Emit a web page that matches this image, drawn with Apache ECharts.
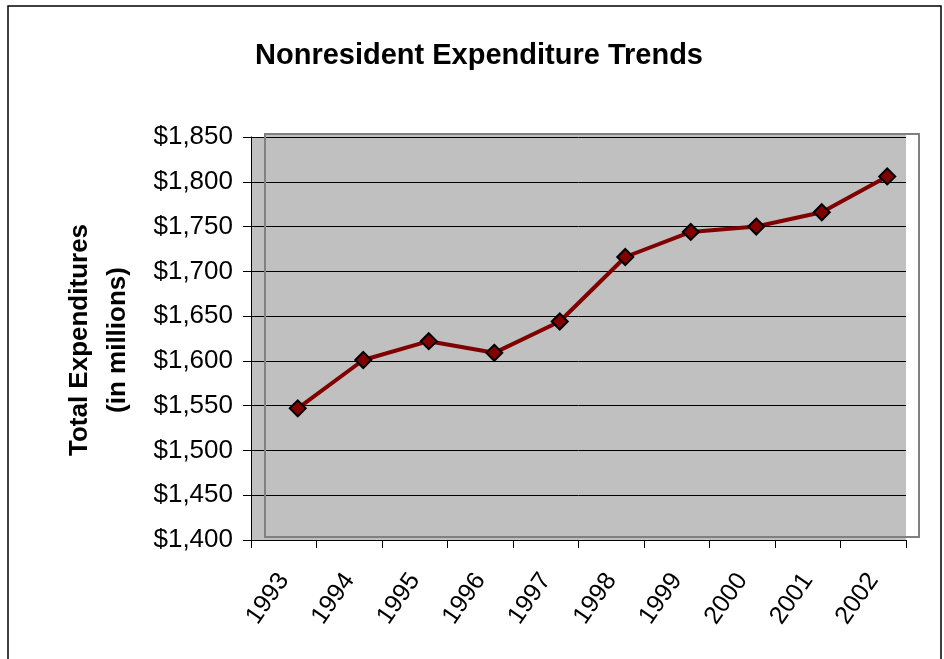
<!DOCTYPE html>
<html>
<head>
<meta charset="utf-8">
<script src="https://cdn.jsdelivr.net/npm/echarts@6/dist/echarts.min.js"></script>
<style>
html,body{margin:0;padding:0;background:#fff;}
#chart{width:944px;height:659px;}
</style>
</head>
<body>
<div id="chart"></div>
<script>
const years = ['1993','1994','1995','1996','1997','1998','1999','2000','2001','2002'];
const expenditures = [1547, 1601, 1622, 1609, 1644, 1716, 1744, 1750, 1766, 1806];
const yMin = 1400, yMax = 1850, yStep = 50;
const titleText = 'Nonresident Expenditure Trends';
const yTitle = 'Total Expenditures\n(in millions)';

const FONT = "'Liberation Sans', Arial, sans-serif";
const chart = echarts.init(document.getElementById('chart'), null, {renderer: 'canvas'});
const fmt = v => '$' + Number(v).toLocaleString('en-US');

chart.setOption({
  animation: false,
  backgroundColor: '#ffffff',
  title: {
    text: titleText,
    left: 474, top: 36, textAlign: 'center',
    textStyle: {fontFamily: FONT, fontSize: 29, fontWeight: 'bold', color: '#000'}
  },
  graphic: [
    {type: 'rect', z: -1, silent: true, shape: {x: 8, y: 6, width: 933, height: 700},
     style: {fill: 'none', stroke: '#000', lineWidth: 1.5}},
    {type: 'rect', z: -1, silent: true, shape: {x: 265, y: 134, width: 641, height: 4},
     style: {fill: '#C0C0C0'}},
    {type: 'rect', z: 1, silent: true, shape: {x: 265, y: 134, width: 654, height: 403},
     style: {fill: 'none', stroke: '#808080', lineWidth: 2}},
    {type: 'text', silent: true, x: 99, y: 340, rotation: Math.PI / 2,
     style: {text: yTitle, fontFamily: FONT, fontSize: 26, fontWeight: 'bold', fill: '#000',
             align: 'center', verticalAlign: 'middle', lineHeight: 38}}
  ],
  grid: [
    {left: 251, right: 38, top: 137, bottom: 119, show: true, backgroundColor: '#C0C0C0', borderWidth: 0},
    {left: 265, right: 24, top: 137, bottom: 119, show: false}
  ],
  xAxis: [
    {type: 'category', gridIndex: 0, data: years, boundaryGap: true,
     axisLine: {lineStyle: {color: '#000', width: 1}},
     axisTick: {show: true, length: 8, lineStyle: {color: '#000'}},
     axisLabel: {rotate: 55, margin: 36, fontFamily: FONT, fontSize: 25, color: '#000', interval: 0},
     splitLine: {show: false}},
    {type: 'category', gridIndex: 1, data: years, boundaryGap: true, show: false}
  ],
  yAxis: [
    {type: 'value', gridIndex: 0, min: yMin, max: yMax, interval: yStep,
     axisLine: {show: true, lineStyle: {color: '#000', width: 1}},
     axisTick: {show: true, length: 8, lineStyle: {color: '#000'}},
     axisLabel: {formatter: fmt, margin: 18, fontFamily: FONT, fontSize: 26, color: '#000'},
     splitLine: {show: true, lineStyle: {color: '#000', width: 1}}},
    {type: 'value', gridIndex: 1, min: yMin, max: yMax, interval: yStep, show: false,
     splitLine: {show: false}}
  ],
  series: [{
    type: 'line', xAxisIndex: 1, yAxisIndex: 1, data: expenditures, z: 5,
    lineStyle: {color: '#800000', width: 4},
    symbol: 'diamond', symbolSize: 16,
    itemStyle: {color: '#800000', borderColor: '#000', borderWidth: 2}
  }]
});
</script>
</body>
</html>
